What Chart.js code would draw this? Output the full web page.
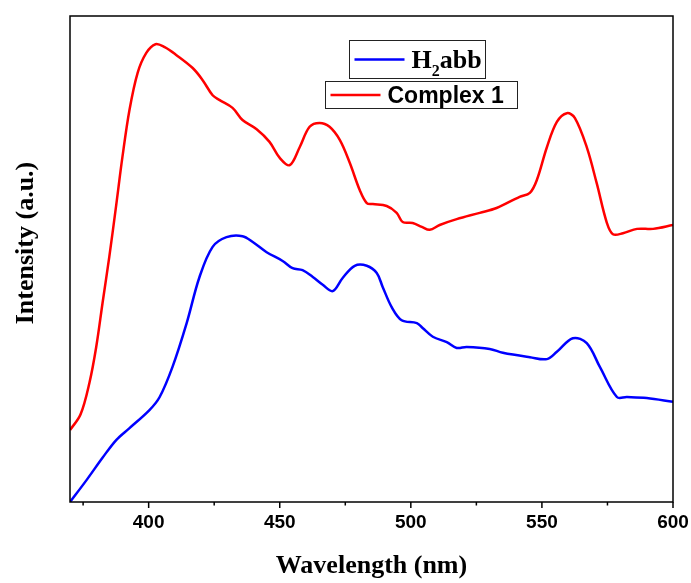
<!DOCTYPE html>
<html lang="en">
<head>
<meta charset="UTF-8" />
<title>Emission spectra</title>
<script src="https://cdn.jsdelivr.net/npm/chart.js"></script>
<style>
  body { margin: 0; background: #fff; }
  canvas { display: block; }
</style>
</head>
<body>
<canvas id="spectra" width="691" height="583"></canvas>
<script>
// emission curves: wavelength (nm) and intensity (a.u., arbitrary 0-100)
const ligandWl = [370, 376.3, 382.4, 387.7, 392.7, 400.3, 404.2, 409.1, 414.5, 419.4, 424.4, 429.7,
  435.8, 439.7, 445, 451.1, 454.9, 458.7, 462.6, 466.4, 470.2, 474, 478.6, 483.2, 487, 489.3, 492.7,
  496.5, 502.3, 504.5, 508.4, 513.7, 517.5, 521.3, 530.1, 535.1, 545.4, 551.9, 555.7, 561.8, 567.1,
  572.1, 578.6, 582.4, 590, 600];
const ligandInt = [0, 4.5, 9.1, 12.8, 15.2, 18.9, 21.6, 27.8, 36.8, 46.3, 52.5, 54.5,
  54.7, 53.5, 51.4, 49.6, 48.1, 47.7, 46.3, 44.7, 43.4, 46.1, 48.6, 48.6, 47.1, 44.2, 40.1,
  37.4, 36.8, 35.8, 34.0, 32.9, 31.7, 31.9, 31.5, 30.7, 29.8, 29.4, 30.9, 33.7, 32.7,
  27.8, 21.6, 21.6, 21.4, 20.6];

const complexWl = [370, 374, 377.4, 380, 382.4, 385, 387.6, 390, 392.7, 395.8, 399.1,
  402.6, 406.1, 410.5, 416.8, 420.6, 424.4, 427.1, 432, 435.8, 441.2, 446.1, 450, 453.8, 457.6,
  461.4, 465.2, 469, 472.9, 476.7, 480.5, 483.2, 485.5, 490.8, 494.6, 496.9, 500.7, 504.2, 507.2,
  511, 517.5, 526.3, 532.7, 541.5, 545.4, 548.1, 551.9, 555.7, 559.5, 562.6, 567.1, 570.9, 574.8,
  577.1, 580.9, 586.3, 592.4, 600];
const complexInt = [14.8, 18.0, 24.5, 31.9, 40.9, 50.5, 61.0, 71.0, 80.7, 88.3, 92.4,
  94.2, 93.6, 92.0, 89.3, 86.8, 83.7, 82.7, 81.1, 78.6, 76.7, 74.1, 70.8, 69.3, 73.0,
  77.2, 78.0, 77.2, 74.5, 69.8, 64.2, 61.5, 61.3, 60.9, 59.5, 57.6, 57.4, 56.6, 56.0,
  57.0, 58.2, 59.5, 60.5, 62.8, 63.6, 66.3, 73.0, 78.2, 80.0, 79.0, 73.0, 65.6, 57.4,
  55.1, 55.3, 56.2, 56.2, 57.0];

const seriesLabels = ['H2abb', 'Complex 1'];
const seriesColors = ['#0000ff', '#ff0000'];
const tickValues = [375, 400, 425, 450, 475, 500, 525, 550, 575, 600];
const labelEvery = 50;

const toPoints = (xs, ys) => xs.map((x, i) => ({ x: x, y: ys[i] }));

// closed box around the plot + outward tick marks on the bottom axis
const framePlugin = {
  id: 'frame',
  afterDraw(chart) {
    const { ctx, chartArea: a } = chart;
    const xs = chart.scales.x;
    ctx.save();
    ctx.strokeStyle = '#000';
    ctx.lineWidth = 1.5;
    ctx.strokeRect(a.left, a.top, a.right - a.left, a.bottom - a.top);
    xs.ticks.forEach(t => {
      const px = xs.getPixelForValue(t.value);
      const len = t.value % labelEvery === 0 ? 6 : 3.5;
      ctx.beginPath();
      ctx.moveTo(px, a.bottom);
      ctx.lineTo(px, a.bottom + len);
      ctx.stroke();
    });
    ctx.restore();
  }
};

// draws a label, putting a digit that sits between letters a bit lower and smaller
function drawLabel(ctx, text, x, y, size, family) {
  const parts = text.split(/(?<=[A-Za-z])(\d)(?=[A-Za-z])/);
  parts.forEach((p, i) => {
    if (!p) return;
    const sub = i % 2 === 1;
    ctx.font = 'bold ' + (sub ? Math.round(size * 0.62) : size) + 'px ' + family;
    ctx.fillText(p, x, sub ? y + size * 0.3 : y);
    x += ctx.measureText(p).width;
  });
}

// one framed box per series, stacked under each other
const boxLegendPlugin = {
  id: 'boxLegend',
  afterDraw(chart) {
    const ctx = chart.ctx;
    const boxes = [
      { x: 349.5, y: 40.5, w: 136, h: 38, size: 26, family: '"Liberation Serif", "Times New Roman", serif' },
      { x: 325.5, y: 81.5, w: 192, h: 27, size: 23, family: '"Liberation Sans", Arial, sans-serif' }
    ];
    ctx.save();
    chart.data.datasets.forEach((ds, i) => {
      const b = boxes[i];
      ctx.fillStyle = '#fff';
      ctx.fillRect(b.x, b.y, b.w, b.h);
      ctx.strokeStyle = '#222';
      ctx.lineWidth = 1;
      ctx.strokeRect(b.x, b.y, b.w, b.h);
      const midY = b.y + b.h / 2;
      ctx.strokeStyle = ds.borderColor;
      ctx.lineWidth = 2.5;
      ctx.beginPath();
      ctx.moveTo(b.x + 5, midY);
      ctx.lineTo(b.x + 55, midY);
      ctx.stroke();
      ctx.fillStyle = '#000';
      ctx.textBaseline = 'alphabetic';
      ctx.textAlign = 'left';
      drawLabel(ctx, ds.label, b.x + 62, midY + b.size * 0.33, b.size, b.family);
    });
    ctx.restore();
  }
};

// y title drawn by hand so it can sit slightly above the middle of the axis
const yTitlePlugin = {
  id: 'yTitle',
  afterDraw(chart) {
    const ctx = chart.ctx;
    ctx.save();
    ctx.translate(26, 243);
    ctx.rotate(-Math.PI / 2);
    ctx.font = 'bold 26px "Liberation Serif", "Times New Roman", serif';
    ctx.fillStyle = '#000';
    ctx.textAlign = 'center';
    ctx.textBaseline = 'middle';
    ctx.fillText('Intensity (a.u.)', 0, 0);
    ctx.restore();
  }
};

new Chart(document.getElementById('spectra'), {
  type: 'line',
  data: {
    datasets: [
      { label: seriesLabels[0], data: toPoints(ligandWl, ligandInt), borderColor: seriesColors[0] },
      { label: seriesLabels[1], data: toPoints(complexWl, complexInt), borderColor: seriesColors[1] }
    ]
  },
  options: {
    responsive: false,
    animation: false,
    layout: { padding: { top: 16, right: 18, left: 0, bottom: 0 } },
    elements: {
      line: { borderWidth: 2.5, tension: 0.35, fill: false },
      point: { radius: 0 }
    },
    plugins: { legend: { display: false }, tooltip: { enabled: false } },
    scales: {
      x: {
        type: 'linear',
        min: 370,
        max: 600,
        afterBuildTicks: s => { s.ticks = tickValues.map(v => ({ value: v })); },
        afterFit: s => { s.height = 81; s.paddingLeft = 0; s.paddingRight = 0; },
        grid: { display: false },
        border: { display: false },
        ticks: {
          padding: 1,
          color: '#000',
          maxRotation: 0,
          autoSkip: false,
          font: { family: '"Liberation Sans", Arial, sans-serif', size: 19, weight: 'bold' },
          callback: v => (v % labelEvery === 0 ? v : '')
        },
        title: {
          display: true,
          text: 'Wavelength (nm)',
          color: '#000',
          padding: { top: 0, bottom: 1 },
          font: { family: '"Liberation Serif", "Times New Roman", serif', size: 26, weight: 'bold' }
        }
      },
      y: {
        min: 0,
        max: 100,
        afterFit: s => { s.width = 70; },
        grid: { display: false },
        border: { display: false },
        ticks: { display: false }
      }
    }
  },
  plugins: [framePlugin, boxLegendPlugin, yTitlePlugin]
});
</script>
</body>
</html>
